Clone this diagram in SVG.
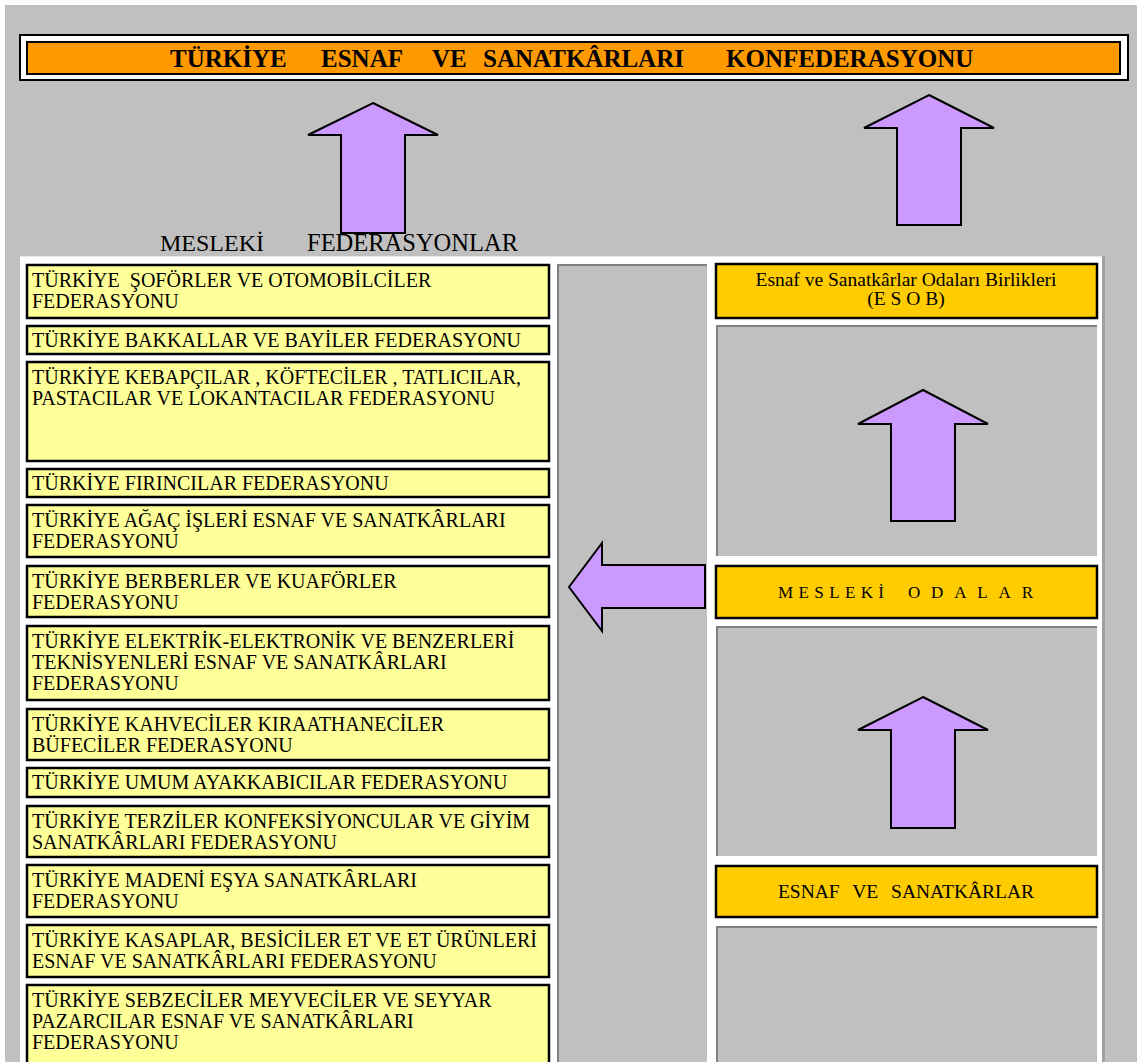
<svg xmlns="http://www.w3.org/2000/svg" width="1137" height="1062" viewBox="0 0 1137 1062">
<style>
.bg{fill:#C0C0C0}
.fed{fill:#FFFF99;stroke:#000;stroke-width:2.5}
.org{fill:#FFCC00;stroke:#000;stroke-width:2.5}
.cell{fill:#C0C0C0}
.inset{fill:none;stroke:#808080;stroke-width:2}
.arrow{fill:#CC99FF;stroke:#000;stroke-width:2;stroke-linejoin:miter}
.t{font-family:"Liberation Serif","Times New Roman",serif;fill:#000}
.ft{font-size:20px}
.rt{font-size:19.5px;text-anchor:middle}
</style>
<rect x="0" y="0" width="1137" height="1062" fill="#fff"/>
<rect class="bg" x="5" y="5" width="1132" height="1057"/>
<g id="title">
<rect x="20" y="35" width="1108" height="45" fill="#fff" stroke="#000" stroke-width="2"/>
<rect x="27" y="42" width="1093" height="32" fill="#FF9900" stroke="#000" stroke-width="2"/>
<g class="t" font-size="25" font-weight="bold">
<text x="170" y="67">TÜRKİYE</text>
<text x="321" y="67">ESNAF</text>
<text x="432" y="67">VE</text>
<text x="483" y="67">SANATKÂRLARI</text>
<text x="726" y="67">KONFEDERASYONU</text>
</g>
</g>
<rect x="20" y="256" width="1084" height="806" fill="#fff"/>
<line x1="20" y1="256.5" x2="1104" y2="256.5" stroke="#E6E6E6" stroke-width="1"/>
<line x1="1103.5" y1="256" x2="1103.5" y2="1062" stroke="#A0A0A0" stroke-width="3"/>
<g id="label-mesleki-federasyonlar">
<text class="t" x="160" y="251" font-size="24">MESLEKİ</text>
<text class="t" x="307" y="251" font-size="24.5">FEDERASYONLAR</text>
</g>
<g id="middle-cell">
<rect class="cell" x="557" y="264" width="150" height="798"/>
<path class="inset" d="M558,1062 V265 H707"/>
</g>
<g id="right-cells">
<rect class="cell" x="716" y="325" width="381" height="231"/>
<path class="inset" d="M717,556 V326 H1097"/>
<rect class="cell" x="716" y="626" width="381" height="230"/>
<path class="inset" d="M717,856 V627 H1097"/>
<rect class="cell" x="716" y="926" width="381" height="136"/>
<path class="inset" d="M717,1062 V927 H1097"/>
</g>
<g id="fed-1"><rect class="fed" x="27" y="265" width="522" height="53"/><text class="t ft" x="32" y="287">TÜRKİYE&#160; ŞOFÖRLER VE OTOMOBİLCİLER</text><text class="t ft" x="32" y="308">FEDERASYONU</text></g>
<g id="fed-2"><rect class="fed" x="27" y="326" width="522" height="28"/><text class="t ft" x="32" y="347">TÜRKİYE BAKKALLAR VE BAYİLER FEDERASYONU</text></g>
<g id="fed-3"><rect class="fed" x="27" y="362" width="522" height="99"/><text class="t ft" x="32" y="384">TÜRKİYE KEBAPÇILAR , KÖFTECİLER , TATLICILAR,</text><text class="t ft" x="32" y="405">PASTACILAR VE LOKANTACILAR FEDERASYONU</text></g>
<g id="fed-4"><rect class="fed" x="27" y="469" width="522" height="28"/><text class="t ft" x="32" y="490">TÜRKİYE FIRINCILAR FEDERASYONU</text></g>
<g id="fed-5"><rect class="fed" x="27" y="505" width="522" height="52"/><text class="t ft" x="32" y="527">TÜRKİYE AĞAÇ İŞLERİ ESNAF VE SANATKÂRLARI</text><text class="t ft" x="32" y="548">FEDERASYONU</text></g>
<g id="fed-6"><rect class="fed" x="27" y="566" width="522" height="51"/><text class="t ft" x="32" y="588">TÜRKİYE BERBERLER VE KUAFÖRLER</text><text class="t ft" x="32" y="609">FEDERASYONU</text></g>
<g id="fed-7"><rect class="fed" x="27" y="626" width="522" height="74"/><text class="t ft" x="32" y="648">TÜRKİYE ELEKTRİK-ELEKTRONİK VE BENZERLERİ</text><text class="t ft" x="32" y="669">TEKNİSYENLERİ ESNAF VE SANATKÂRLARI</text><text class="t ft" x="32" y="690">FEDERASYONU</text></g>
<g id="fed-8"><rect class="fed" x="27" y="709" width="522" height="51"/><text class="t ft" x="32" y="731">TÜRKİYE KAHVECİLER KIRAATHANECİLER</text><text class="t ft" x="32" y="752">BÜFECİLER FEDERASYONU</text></g>
<g id="fed-9"><rect class="fed" x="27" y="768" width="522" height="29"/><text class="t ft" x="32" y="789">TÜRKİYE UMUM AYAKKABICILAR FEDERASYONU</text></g>
<g id="fed-10"><rect class="fed" x="27" y="806" width="522" height="51"/><text class="t ft" x="32" y="828">TÜRKİYE TERZİLER KONFEKSİYONCULAR VE GİYİM</text><text class="t ft" x="32" y="849">SANATKÂRLARI FEDERASYONU</text></g>
<g id="fed-11"><rect class="fed" x="27" y="865" width="522" height="52"/><text class="t ft" x="32" y="887">TÜRKİYE MADENİ EŞYA SANATKÂRLARI</text><text class="t ft" x="32" y="908">FEDERASYONU</text></g>
<g id="fed-12"><rect class="fed" x="27" y="925" width="522" height="52"/><text class="t ft" x="32" y="947">TÜRKİYE KASAPLAR, BESİCİLER ET VE ET ÜRÜNLERİ</text><text class="t ft" x="32" y="968">ESNAF VE SANATKÂRLARI FEDERASYONU</text></g>
<g id="fed-13"><rect class="fed" x="27" y="985" width="522" height="90"/><text class="t ft" x="32" y="1007">TÜRKİYE SEBZECİLER MEYVECİLER VE SEYYAR</text><text class="t ft" x="32" y="1028">PAZARCILAR ESNAF VE SANATKÂRLARI</text><text class="t ft" x="32" y="1049">FEDERASYONU</text></g>
<g id="esob"><rect class="org" x="716" y="264" width="381" height="54"/><text class="t rt" x="906" y="286">Esnaf ve Sanatkârlar Odaları Birlikleri</text><text class="t rt" x="906" y="305">(E S O B)</text></g>
<g id="meslek-odalari"><rect class="org" x="716" y="566" width="381" height="52"/><text class="t" x="778" y="598" font-size="17" textLength="106" lengthAdjust="spacing">MESLEKİ</text><text class="t" x="908" y="598" font-size="17" textLength="125" lengthAdjust="spacing">ODALAR</text></g>
<g id="esnaf-sanatkarlar"><rect class="org" x="716" y="866" width="381" height="51"/><text class="t" x="906" y="898" font-size="19.5" text-anchor="middle" word-spacing="8">ESNAF VE SANATKÂRLAR</text></g>
<g id="connectors">
<polygon class="arrow" points="373,103 438,135 405,135 405,233 341,233 341,135 308,135"/>
<polygon class="arrow" points="929,95 994,128 961,128 961,225 897,225 897,128 864,128"/>
<polygon class="arrow" points="569,587 602,543 602,565 705,565 705,608 602,608 602,631"/>
<polygon class="arrow" points="923,390 988,424 955,424 955,521 891,521 891,424 858,424"/>
<polygon class="arrow" points="923,697 988,730 955,730 955,828 891,828 891,730 858,730"/>
</g>
</svg>
